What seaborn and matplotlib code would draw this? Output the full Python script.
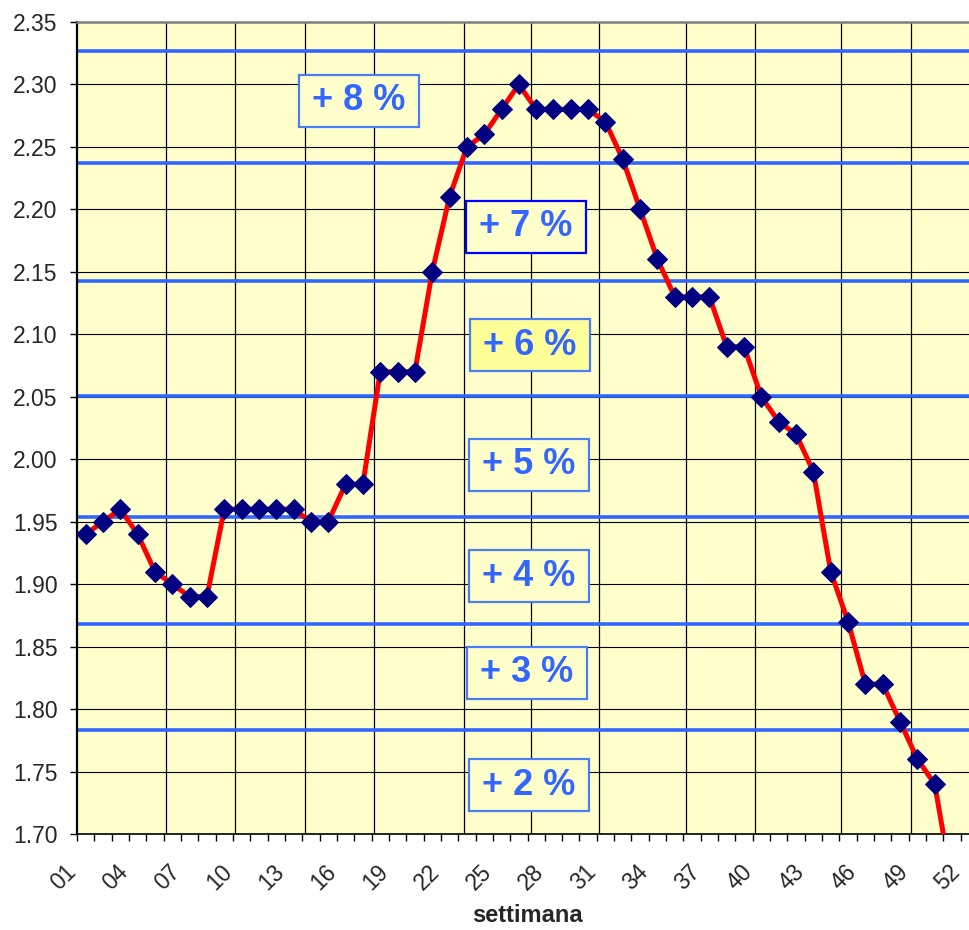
import numpy as np
import matplotlib.pyplot as plt
import matplotlib.patches as mpatches
import matplotlib.transforms as mtransforms
import seaborn as sns

sns.set_style("ticks")
plt.rcParams['font.family'] = ['Liberation Sans', 'DejaVu Sans']

# weekly values (week 51 falls below the axis)
weeks = list(range(1, 52))
price = [1.94, 1.95, 1.96, 1.94, 1.91, 1.90, 1.89, 1.89, 1.96, 1.96,
         1.96, 1.96, 1.96, 1.95, 1.95, 1.98, 1.98, 2.07, 2.07, 2.07,
         2.15, 2.21, 2.25, 2.26, 2.28, 2.30, 2.28, 2.28, 2.28, 2.28,
         2.27, 2.24, 2.20, 2.16, 2.13, 2.13, 2.13, 2.09, 2.09, 2.05,
         2.03, 2.02, 1.99, 1.91, 1.87, 1.82, 1.82, 1.79, 1.76, 1.74,
         1.66]

tick_weeks = list(range(1, 53, 3))
tick_labels = ['%02d' % w for w in tick_weeks]

band_levels = [2.327, 2.237, 2.143, 2.051, 1.954, 1.868, 1.783]
band_labels = ['+ 8 %', '+ 7 %', '+ 6 %', '+ 5 %', '+ 4 %', '+ 3 %', '+ 2 %']
label_x = [16.77, 26.40, 26.64, 26.58, 26.58, 26.47, 26.58]
label_y = [2.2868, 2.186, 2.0914, 1.9954, 1.9065, 1.8289, 1.7392]

month_lines = [5.64, 9.62, 13.66, 17.64, 22.83, 26.70, 30.62, 35.64, 39.62, 44.59, 48.62]

blue = '#3366ff'
fig = plt.figure(figsize=(9.69, 9.30), dpi=100)
ax = fig.add_axes([77 / 969, 1 - 834 / 930, 901 / 969, 812 / 930])
ax.set_facecolor('#ffffcc')

# grid
ax.set_ylim(1.70, 2.35)
ax.set_xlim(0.5, 52.5)
ax.set_yticks(np.round(np.arange(1.70, 2.351, 0.05), 2))
ax.set_yticklabels(['%.2f' % v for v in ax.get_yticks()])
ax.grid(axis='y', color='black', lw=0.8, zorder=0)
ax.grid(axis='x', visible=False)
for m in month_lines:
    ax.axvline(m, color='black', lw=0.9, zorder=0.5)

for lev in band_levels:
    ax.axhline(lev, color=blue, lw=2.6, zorder=1)

sns.lineplot(x=weeks, y=price, ax=ax, color='#ff0000', lw=3.6, marker='D',
             markersize=10.5, markerfacecolor='#000080', markeredgecolor='#000080',
             zorder=4)

# label boxes
bw, bh = 6.9, 0.042
for tx, ty, lab in zip(label_x, label_y, band_labels):
    face = '#ffff99' if lab == '+ 6 %' else '#ffffcc'
    edge = '#0000ff' if lab == '+ 7 %' else '#4a7cf5'
    ax.add_patch(mpatches.Rectangle((tx - bw / 2, ty - bh / 2), bw, bh, facecolor=face,
                                    edgecolor=edge, lw=1.6, zorder=3))
    ax.text(tx, ty, lab, ha='center', va='center', fontsize=26, fontweight='bold',
            color=blue, zorder=3.5)

# x axis
ax.set_xticks(tick_weeks)
ax.set_xticklabels(tick_labels, rotation=45, ha='right', va='center',
                   rotation_mode='anchor', fontsize=16.5)
ax.set_xticks(np.arange(0.5, 53, 1), minor=True)
ax.tick_params(axis='x', which='major', length=0, pad=25)
ax.tick_params(axis='x', which='minor', length=5, width=1, color='black', direction='out')
offset = mtransforms.ScaledTranslation(-13 / 100, 0, fig.dpi_scale_trans)
for lab in ax.get_xticklabels():
    lab.set_transform(lab.get_transform() + offset)

ax.tick_params(axis='y', length=5, width=1, color='black', direction='out',
               labelsize=16.5, pad=9)

ax.set_xlabel('settimana', fontsize=17, fontweight='bold')
ax.xaxis.set_label_coords(0.5, -0.086)
ax.set_ylabel('')

ax.spines['top'].set_color('#808080')
ax.spines['top'].set_linewidth(1.8)
ax.spines['left'].set_color('black')
ax.spines['left'].set_linewidth(1.6)
ax.spines['bottom'].set_color('black')
ax.spines['bottom'].set_linewidth(1.2)
ax.spines['right'].set_visible(False)

fig.savefig('out.png', dpi=100)
